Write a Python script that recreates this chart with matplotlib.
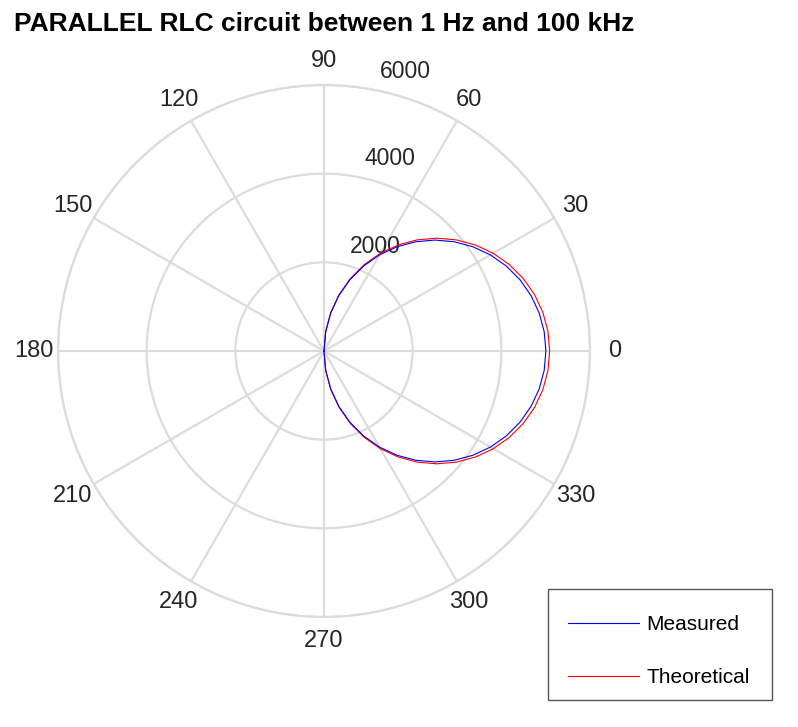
import numpy as np
import matplotlib
matplotlib.use("Agg")
import matplotlib.pyplot as plt
from matplotlib.transforms import offset_copy
from matplotlib.patches import Rectangle

plt.rcParams['font.family'] = ['Liberation Sans', 'DejaVu Sans']

# Data (angle in degrees, magnitude in ohms)
theta_deg = [-90, -85, -80, -75, -70, -65, -60, -55, -50, -45, -40, -35, -30, -25, -20, -15, -10, -5,
             0, 5, 10, 15, 20, 25, 30, 35, 40, 45, 50, 55, 60, 65, 70, 75, 80, 85, 90]
measured = [0, 436, 869, 1295, 1712, 2115, 2503, 2871, 3217, 3539, 3834, 4100, 4334, 4536, 4703, 4834, 4929, 4986,
            5005, 4986, 4929, 4834, 4703, 4536, 4334, 4100, 3834, 3539, 3217, 2871, 2503, 2115, 1712, 1295, 869, 436, 0]
theoretical = [0, 444, 884, 1317, 1741, 2151, 2545, 2920, 3272, 3599, 3899, 4170, 4408, 4613, 4783, 4917, 5013, 5071,
               5090, 5071, 5013, 4917, 4783, 4613, 4408, 4170, 3899, 3599, 3272, 2920, 2545, 2151, 1741, 1317, 884, 444, 0]
r_ticks = [2000, 4000, 6000]
r_tick_labels = ["2000", "4000", "6000"]
theta_ticks = [0, 30, 60, 90, 120, 150, 180, 210, 240, 270, 300, 330]

W, H = 798, 727
fig = plt.figure(figsize=(W / 100, H / 100), dpi=100)
cx, cy, R = 324, 351, 266
ax = fig.add_axes([(cx - R) / W, (H - cy - R) / H, 2 * R / W, 2 * R / H], projection='polar')

grid_col = '#dcdcdc'
ax.set_ylim(0, 6000)
ax.set_yticks(r_ticks)
ax.set_yticklabels([])
ax.set_xticks(np.deg2rad(theta_ticks))
ax.set_xticklabels([str(t) for t in theta_ticks], fontsize=17, color='#262626')
ax.tick_params(axis='x', pad=7)
ax.grid(True, color=grid_col, linewidth=1.6)
ax.spines['polar'].set_color(grid_col)
ax.spines['polar'].set_linewidth(1.6)

th = np.deg2rad(theta_deg)
ax.plot(th, theoretical, color='#ff0000', linewidth=0.8, label='Theoretical', zorder=3)
ax.plot(th, measured, color='#0000ff', linewidth=0.8, label='Measured', zorder=4)

# radial labels near 80 degrees
for r, lab in zip(r_ticks, r_tick_labels):
    tr = offset_copy(ax.transData, fig=fig, x=10, y=11, units='dots')
    ax.text(np.deg2rad(80), r, lab, transform=tr, ha='left', va='baseline',
            fontsize=16.5, color='#262626', zorder=2)

fig.text(14 / W, 1 - 12 / H, 'PARALLEL RLC circuit between 1 Hz and 100 kHz',
         fontsize=19, fontweight='bold', ha='left', va='top')

# legend box
fig.patches.append(Rectangle((548 / W, 1 - 700 / H), (772 - 548) / W, (700 - 589) / H,
                             transform=fig.transFigure, facecolor='white',
                             edgecolor='#555555', linewidth=1.0, zorder=5))
handles, labels = ax.get_legend_handles_labels()
order = [1, 0]
leg = fig.legend([handles[i] for i in order], [labels[i] for i in order],
                 loc='upper left', bbox_to_anchor=(545 / W, 1 - 592 / H),
                 fontsize=15, frameon=False,
                 handlelength=3.4, handletextpad=0.35, labelspacing=1.65,
                 borderpad=1.1, borderaxespad=0)
leg.set_zorder(6)

fig.savefig('out.png', dpi=100)
